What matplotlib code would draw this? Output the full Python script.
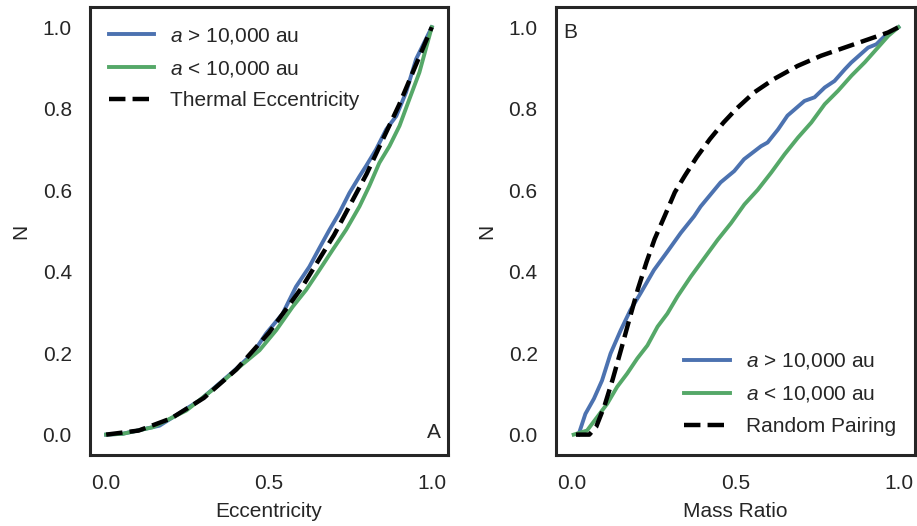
import matplotlib
matplotlib.use("Agg")
import matplotlib.pyplot as plt

# Panel A: eccentricity CDFs
ecc_wide = [0.0, 0.05, 0.164, 0.287, 0.389, 0.45, 0.491, 0.542, 0.583, 0.624, 0.655, 0.686,
            0.716, 0.747, 0.778, 0.798, 0.829, 0.86, 0.891, 0.921, 0.952, 1.0]
n_wide_a = [0.0, 0.002, 0.022, 0.084, 0.154, 0.199, 0.248, 0.297, 0.363, 0.412, 0.458, 0.503,
            0.544, 0.593, 0.634, 0.659, 0.70, 0.749, 0.782, 0.84, 0.922, 1.0]
ecc_close = [0.0, 0.051, 0.143, 0.246, 0.338, 0.409, 0.471, 0.522, 0.573, 0.614, 0.655, 0.696,
             0.737, 0.778, 0.808, 0.839, 0.87, 0.901, 0.931, 0.962, 1.0]
n_close_a = [0.0, 0.002, 0.018, 0.059, 0.117, 0.166, 0.207, 0.256, 0.314, 0.355, 0.404, 0.454,
             0.503, 0.56, 0.61, 0.667, 0.708, 0.758, 0.823, 0.889, 1.0]
ecc_thermal = [0.0, 0.1, 0.2, 0.3, 0.4, 0.5, 0.6, 0.7, 0.8, 0.9, 1.0]
n_thermal = [0.0, 0.01, 0.04, 0.09, 0.16, 0.25, 0.36, 0.49, 0.64, 0.81, 1.0]

# Panel B: mass ratio CDFs
q_wide = [0.02, 0.041, 0.067, 0.092, 0.118, 0.149, 0.179, 0.21, 0.251, 0.292, 0.333, 0.374,
          0.394, 0.455, 0.497, 0.527, 0.579, 0.599, 0.631, 0.66, 0.712, 0.743, 0.774, 0.804,
          0.836, 0.855, 0.907, 0.932, 0.959, 1.0]
n_wide_b = [0.0, 0.051, 0.088, 0.133, 0.199, 0.256, 0.306, 0.347, 0.404, 0.449, 0.495, 0.536,
            0.56, 0.619, 0.647, 0.676, 0.708, 0.717, 0.749, 0.783, 0.819, 0.828, 0.852, 0.868,
            0.897, 0.913, 0.95, 0.958, 0.979, 1.0]
q_close = [0.005, 0.046, 0.077, 0.108, 0.138, 0.169, 0.2, 0.231, 0.262, 0.292, 0.323, 0.364,
           0.405, 0.446, 0.487, 0.528, 0.569, 0.61, 0.651, 0.692, 0.733, 0.774, 0.815, 0.856,
           0.897, 0.938, 0.969, 1.0]
n_close_b = [0.0, 0.01, 0.043, 0.076, 0.117, 0.15, 0.187, 0.219, 0.265, 0.297, 0.339, 0.388,
             0.433, 0.478, 0.519, 0.565, 0.601, 0.643, 0.688, 0.729, 0.766, 0.811, 0.844, 0.881,
             0.914, 0.951, 0.979, 1.0]
q_random = [0.012, 0.053, 0.074, 0.1, 0.125, 0.151, 0.176, 0.202, 0.228, 0.253, 0.284, 0.315,
            0.346, 0.382, 0.422, 0.464, 0.505, 0.558, 0.619, 0.691, 0.763, 0.835, 0.907,
            0.968, 1.0]
n_random = [0.0, 0.0, 0.019, 0.072, 0.137, 0.211, 0.284, 0.358, 0.423, 0.48, 0.537, 0.595,
            0.636, 0.681, 0.725, 0.766, 0.801, 0.84, 0.873, 0.905, 0.93, 0.95, 0.97,
            0.987, 1.0]

blue = "#4C72B0"
green = "#55A868"
dark = "#262626"

plt.rcParams["font.family"] = ["Liberation Sans", "DejaVu Sans"]
plt.rcParams["mathtext.fontset"] = "custom"
plt.rcParams["mathtext.it"] = "Liberation Sans:italic"
plt.rcParams["mathtext.rm"] = "Liberation Sans"
plt.rcParams["font.size"] = 15
plt.rcParams["text.color"] = dark
plt.rcParams["axes.labelcolor"] = dark

fig = plt.figure(figsize=(9.17, 5.26), dpi=100)
ax1 = fig.add_axes([0.098, 0.135, 0.3906, 0.852])
ax2 = fig.add_axes([0.606, 0.135, 0.3916, 0.852])


def style(ax, xlabel):
    ax.set_xlim(-0.05, 1.05)
    ax.set_ylim(-0.05, 1.05)
    ax.set_xticks([0.0, 0.5, 1.0])
    ax.set_yticks([0.0, 0.2, 0.4, 0.6, 0.8, 1.0])
    ax.tick_params(length=0, pad=14, labelsize=15, colors=dark)
    ax.tick_params(axis="y", pad=13)
    for s in ax.spines.values():
        s.set_linewidth(2.2)
        s.set_color(dark)
    ax.set_xlabel(xlabel, fontsize=15, labelpad=6)
    ax.set_ylabel("N", fontsize=15, labelpad=9)


ax1.plot(ecc_wide, n_wide_a, color=blue, lw=2.8, label=r"$a$ > 10,000 au")
ax1.plot(ecc_close, n_close_a, color=green, lw=2.8, label=r"$a$ < 10,000 au")
ax1.plot(ecc_thermal, n_thermal, color="black", lw=3.2, ls="--", label="Thermal Eccentricity")
style(ax1, "Eccentricity")
ax1.legend(loc="upper left", frameon=False, handlelength=2.2, handletextpad=0.75,
           labelspacing=0.62, fontsize=15)
ax1.text(0.98, 0.03, "A", transform=ax1.transAxes, ha="right", va="bottom", fontsize=15)

ax2.plot(q_wide, n_wide_b, color=blue, lw=2.8, label=r"$a$ > 10,000 au")
ax2.plot(q_close, n_close_b, color=green, lw=2.8, label=r"$a$ < 10,000 au")
ax2.plot(q_random, n_random, color="black", lw=3.2, ls="--", label="Random Pairing")
style(ax2, "Mass Ratio")
ax2.legend(loc="lower right", frameon=False, handlelength=2.2, handletextpad=0.75,
           labelspacing=0.62, fontsize=15)
ax2.text(0.02, 0.965, "B", transform=ax2.transAxes, ha="left", va="top", fontsize=15)

fig.savefig("out.png", dpi=100)
